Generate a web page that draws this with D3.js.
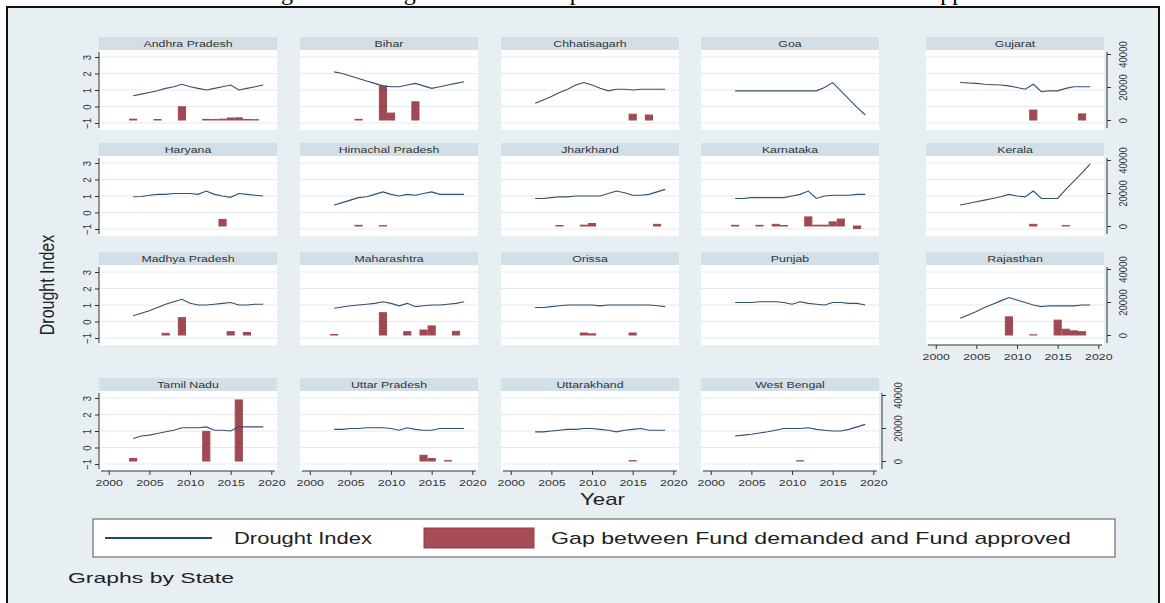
<!DOCTYPE html>
<html><head><meta charset="utf-8">
<script src="https://cdn.jsdelivr.net/npm/d3@7"></script>
<style>body{margin:0;background:#fff;} svg{display:block;font-family:"Liberation Sans",Arial,sans-serif;}</style>
</head><body><svg id="c" width="1165" height="603"></svg>
<script>
const states = ["Andhra Pradesh","Bihar","Chhatisagarh","Goa","Gujarat",
  "Haryana","Himachal Pradesh","Jharkhand","Karnataka","Kerala",
  "Madhya Pradesh","Maharashtra","Orissa","Punjab","Rajasthan",
  "Tamil Nadu","Uttar Pradesh","Uttarakhand","West Bengal"];
const years = [2003,2004,2005,2006,2007,2008,2009,2010,2011,2012,2013,2014,2015,2016,2017,2018,2019];

// Drought Index per state (aligned with years)
const diAndhraPradesh   = [0.65,0.75,0.85,0.95,1.1,1.2,1.35,1.2,1.1,1.0,1.1,1.2,1.3,1.0,1.1,1.2,1.3];
const diBihar           = [2.1,2.0,1.85,1.7,1.55,1.4,1.25,1.2,1.2,1.3,1.4,1.25,1.1,1.2,1.3,1.4,1.5];
const diChhatisagarh    = [0.2,0.4,0.6,0.85,1.05,1.3,1.45,1.3,1.1,0.95,1.05,1.05,1.0,1.05,1.05,1.05,1.05];
const diGoa             = [0.95,0.95,0.95,0.95,0.95,0.95,0.95,0.95,0.95,0.95,0.95,1.15,1.45,0.95,0.45,-0.05,-0.5];
const diGujarat         = [1.45,1.42,1.4,1.35,1.32,1.3,1.25,1.15,1.05,1.35,0.9,0.95,0.95,1.1,1.2,1.2,1.2];
const diHaryana         = [0.95,0.97,1.05,1.1,1.1,1.15,1.15,1.15,1.1,1.3,1.1,1.0,0.92,1.15,1.1,1.05,1.0];
const diHimachalPradesh = [0.45,0.6,0.75,0.9,0.95,1.1,1.25,1.1,1.0,1.1,1.05,1.15,1.25,1.1,1.1,1.1,1.1];
const diJharkhand       = [0.85,0.85,0.9,0.95,0.95,1.0,1.0,1.0,1.0,1.15,1.3,1.2,1.05,1.05,1.1,1.25,1.4];
const diKarnataka       = [0.85,0.85,0.9,0.9,0.9,0.9,0.9,1.0,1.1,1.3,0.85,1.0,1.05,1.05,1.05,1.1,1.1];
const diKerala          = [0.45,0.55,0.65,0.75,0.85,0.95,1.1,1.0,0.95,1.3,0.85,0.85,0.85,1.4,1.9,2.4,2.95];
const diMadhyaPradesh   = [0.35,0.5,0.65,0.85,1.05,1.2,1.35,1.1,1.0,1.0,1.05,1.1,1.15,1.0,1.0,1.05,1.05];
const diMaharashtra     = [0.8,0.88,0.95,1.0,1.05,1.1,1.2,1.1,0.95,1.1,0.9,0.95,1.0,1.0,1.05,1.1,1.2];
const diOrissa          = [0.85,0.85,0.9,0.95,1.0,1.0,1.0,1.0,0.95,1.0,1.0,1.0,1.0,1.0,1.0,0.95,0.9];
const diPunjab          = [1.15,1.15,1.15,1.2,1.2,1.2,1.15,1.05,1.2,1.1,1.05,1.0,1.15,1.15,1.1,1.1,1.0];
const diRajasthan       = [0.2,0.4,0.6,0.85,1.05,1.25,1.45,1.3,1.15,1.0,0.9,0.95,0.95,0.95,0.95,1.0,1.0];
const diTamilNadu       = [0.55,0.7,0.75,0.85,0.95,1.05,1.2,1.2,1.2,1.25,1.05,1.05,1.0,1.25,1.25,1.25,1.25];
const diUttarPradesh    = [1.1,1.1,1.15,1.15,1.2,1.2,1.2,1.15,1.05,1.2,1.1,1.05,1.05,1.15,1.15,1.15,1.15];
const diUttarakhand     = [0.95,0.95,1.0,1.05,1.1,1.1,1.15,1.15,1.1,1.05,0.95,1.05,1.1,1.15,1.05,1.05,1.05];
const diWestBengal      = [0.7,0.75,0.8,0.88,0.95,1.05,1.15,1.15,1.15,1.2,1.1,1.05,1.0,1.0,1.1,1.25,1.4];

// Gap between fund demanded and fund approved (aligned with years, null = none)
const _ = null;
const gapAndhraPradesh   = [500,_,_,300,_,_,8000,_,_,400,300,500,1200,1300,300,200,_];
const gapBihar           = [_,_,_,400,_,_,20600,4200,_,_,11000,_,_,_,_,_,_];
const gapChhatisagarh    = [_,_,_,_,_,_,_,_,_,_,_,_,3500,_,3000,_,_];
const gapGoa             = [_,_,_,_,_,_,_,_,_,_,_,_,_,_,_,_,_];
const gapGujarat         = [_,_,_,_,_,_,_,_,_,6000,_,_,_,_,_,3700,_];
const gapHaryana         = [_,_,_,_,_,_,_,_,_,_,_,4000,_,_,_,_,_];
const gapHimachalPradesh = [_,_,_,400,_,_,200,_,_,_,_,_,_,_,_,_,_];
const gapJharkhand       = [_,_,_,300,_,_,500,1500,_,_,_,_,_,_,_,1000,_];
const gapKarnataka       = [400,_,_,400,_,1000,300,_,_,5500,500,500,2500,4200,_,-1500,_];
const gapKerala          = [_,_,_,_,_,_,_,_,_,1000,_,_,_,200,_,_,_];
const gapMadhyaPradesh   = [_,_,_,_,1000,_,10500,_,_,_,_,_,2000,_,1500,_,_];
const gapMaharashtra     = [300,_,_,_,_,_,13500,_,_,2000,_,3000,5500,_,_,2200,_];
const gapOrissa          = [_,_,_,_,_,_,1200,700,_,_,_,_,1200,_,_,_,_];
const gapPunjab          = [_,_,_,_,_,_,_,_,_,_,_,_,_,_,_,_,_];
const gapRajasthan       = [_,_,_,_,_,_,11000,_,_,100,_,_,9000,3500,2500,2000,_];
const gapTamilNadu       = [1500,_,_,_,_,_,_,_,_,18000,_,_,_,37000,_,_,_];
const gapUttarPradesh    = [_,_,_,_,_,_,_,_,_,_,_,3500,1500,_,200,_,_];
const gapUttarakhand     = [_,_,_,_,_,_,_,_,_,_,_,_,200,_,_,_,_];
const gapWestBengal      = [_,_,_,_,_,_,_,_,150,_,_,_,_,_,_,_,_];

const leftTicks = [-1,0,1,2,3];
const rightTicks = [0,20000,40000];
const xTicks = [2000,2005,2010,2015,2020];

const droughtSeries = [diAndhraPradesh,diBihar,diChhatisagarh,diGoa,diGujarat,diHaryana,diHimachalPradesh,diJharkhand,diKarnataka,diKerala,diMadhyaPradesh,diMaharashtra,diOrissa,diPunjab,diRajasthan,diTamilNadu,diUttarPradesh,diUttarakhand,diWestBengal];
const gapSeries = [gapAndhraPradesh,gapBihar,gapChhatisagarh,gapGoa,gapGujarat,gapHaryana,gapHimachalPradesh,gapJharkhand,gapKarnataka,gapKerala,gapMadhyaPradesh,gapMaharashtra,gapOrissa,gapPunjab,gapRajasthan,gapTamilNadu,gapUttarPradesh,gapUttarakhand,gapWestBengal];

const svg = d3.select("#c");
const SX = 1.3; // horizontal stretch of the source image
const fmt = d3.format("d");

// cropped caption above frame (only descenders show, as in the source)
svg.append("text").attr("x",640).attr("y",0).attr("text-anchor","middle")
  .attr("font-family","'Liberation Serif','Times New Roman',serif").attr("font-size",24).attr("fill","#000")
  .text("Figure 4: Drought Index and Gap between Fund demanded and Fund approved");

svg.append("rect").attr("x",7).attr("y",7).attr("width",1152).attr("height",606)
  .attr("fill","#e8eff2").attr("stroke","#111").attr("stroke-width",2);

const colX = [99,300,501,701,926];
const stripTop = [37,143,252,378];
const PW = 178, SH = 13, PH = 80;
const x = d3.scaleLinear().domain([1998.8,2020.7]).range([0,PW]);
const yL = d3.scaleLinear().domain([-1,3]).range([73,7]);
const yR = d3.scaleLinear().domain([0,40000]).range([70,4]);
const lineCol = "#34506a", barCol = "#9a3a45", txtCol = "#333";

function stext(g, tx, ty, str, size, anchor){
  return g.append("text").attr("transform",`translate(${tx},${ty}) scale(${SX},1)`)
    .attr("text-anchor",anchor||"middle").attr("font-size",size).attr("fill",txtCol).text(str);
}

const nCols = 5;
states.forEach((st,i)=>{
  const row = Math.floor(i/nCols), col = i%nCols;
  const g = svg.append("g").attr("transform",`translate(${colX[col]},${stripTop[row]+SH})`);
  g.append("rect").attr("x",0).attr("y",-SH).attr("width",PW).attr("height",SH).attr("fill","#d3dfe6");
  stext(g, PW/2, -3, st, 9.5);
  g.append("rect").attr("width",PW).attr("height",PH).attr("fill","#fff");
  g.selectAll("line.grid").data(leftTicks).join("line").attr("class","grid")
    .attr("x1",0).attr("x2",PW).attr("y1",d=>yL(d)).attr("y2",d=>yL(d))
    .attr("stroke","#e4ebef").attr("stroke-width",1);
  const gaps = years.map((yr,k)=>({yr, v:gapSeries[i][k]})).filter(d=>d.v!==null);
  g.selectAll("rect.bar").data(gaps).join("rect").attr("class","bar")
    .attr("x",d=>x(d.yr-0.5)+0.5).attr("width",d=>x(d.yr+0.5)-x(d.yr-0.5)-1)
    .attr("y",d=>Math.min(yR(0),yR(d.v))).attr("height",d=>Math.abs(yR(0)-yR(d.v)))
    .attr("fill",barCol).attr("stroke",barCol).attr("stroke-width",1).attr("opacity",0.92);
  const pts = years.map((yr,k)=>[yr,droughtSeries[i][k]]);
  g.append("path").datum(pts).attr("fill","none").attr("stroke",lineCol).attr("stroke-width",1.1)
    .attr("d",d3.line().x(d=>x(d[0])).y(d=>yL(d[1])));

  // left axis on first column
  if(col===0){
    const ax = g.append("g").call(d3.axisLeft(yL).tickValues(leftTicks).tickFormat(fmt).tickSize(4).tickSizeOuter(0));
    ax.select(".domain").attr("stroke","#333").attr("d",`M0,2V${PH-2}`);
    ax.selectAll(".tick line").attr("stroke","#333");
    ax.selectAll("text").attr("x",null).attr("dy",null).attr("text-anchor","middle")
      .attr("transform","translate(-8,0) rotate(-90) scale(1,1.2)").attr("font-size",9.5).attr("fill",txtCol)
      .attr("font-family","'Liberation Sans',Arial,sans-serif");
  }
  // right axis on last panel of each row
  const lastInRow = (col===nCols-1) || (i===states.length-1);
  if(lastInRow){
    const ax = g.append("g").attr("transform",`translate(${PW+3},0)`)
      .call(d3.axisRight(yR).tickValues(rightTicks).tickFormat(fmt).tickSize(4).tickSizeOuter(0));
    ax.select(".domain").attr("stroke","#333").attr("d",`M0,2V${PH-2}`);
    ax.selectAll(".tick line").attr("stroke","#333");
    ax.selectAll("text").attr("x",null).attr("dy",null).attr("text-anchor","middle")
      .attr("transform","translate(20,0) rotate(-90) scale(1,1.2)").attr("font-size",9.5).attr("fill",txtCol)
      .attr("font-family","'Liberation Sans',Arial,sans-serif");
  }
  // bottom axis where nothing is below
  if(i + nCols >= states.length){
    const ax = g.append("g").attr("transform",`translate(0,${PH})`)
      .call(d3.axisBottom(x).tickValues(xTicks).tickSize(4).tickSizeOuter(0).tickFormat(fmt));
    ax.select(".domain").attr("stroke","#333").attr("d",`M2,0H${PW-2}`);
    ax.selectAll(".tick line").attr("stroke","#333");
    ax.selectAll("text").attr("y",null).attr("dy",null)
      .attr("transform",`translate(0,15) scale(${SX},1)`)
      .attr("font-size",9.5).attr("fill",txtCol).attr("font-family","'Liberation Sans',Arial,sans-serif");
  }
});

// axis titles
svg.append("text").attr("transform","translate(54,285) rotate(-90) scale(1,1.25)")
  .attr("text-anchor","middle").attr("font-size",16).attr("fill","#222").text("Drought Index");
svg.append("text").attr("x",580).attr("y",505).attr("font-size",17).attr("fill","#222")
  .attr("textLength",45).attr("lengthAdjust","spacingAndGlyphs").text("Year");

// legend
const lg = svg.append("g");
lg.append("rect").attr("x",93).attr("y",519).attr("width",1022).attr("height",38)
  .attr("fill","#fff").attr("stroke","#555").attr("stroke-width",1);
lg.append("line").attr("x1",105).attr("x2",212).attr("y1",538).attr("y2",538)
  .attr("stroke","#1f4a70").attr("stroke-width",2);
lg.append("text").attr("x",234).attr("y",544).attr("font-size",17).attr("fill","#222")
  .attr("textLength",138).attr("lengthAdjust","spacingAndGlyphs").text("Drought Index");
lg.append("rect").attr("x",424).attr("y",528).attr("width",110).attr("height",20)
  .attr("fill","#a84d58").attr("stroke","#9a3a45");
lg.append("text").attr("x",551).attr("y",544).attr("font-size",17).attr("fill","#222")
  .attr("textLength",520).attr("lengthAdjust","spacingAndGlyphs").text("Gap between Fund demanded and Fund approved");

svg.append("text").attr("x",68).attr("y",583).attr("font-size",15).attr("fill","#222")
  .attr("textLength",166).attr("lengthAdjust","spacingAndGlyphs").text("Graphs by State");
</script></body></html>
